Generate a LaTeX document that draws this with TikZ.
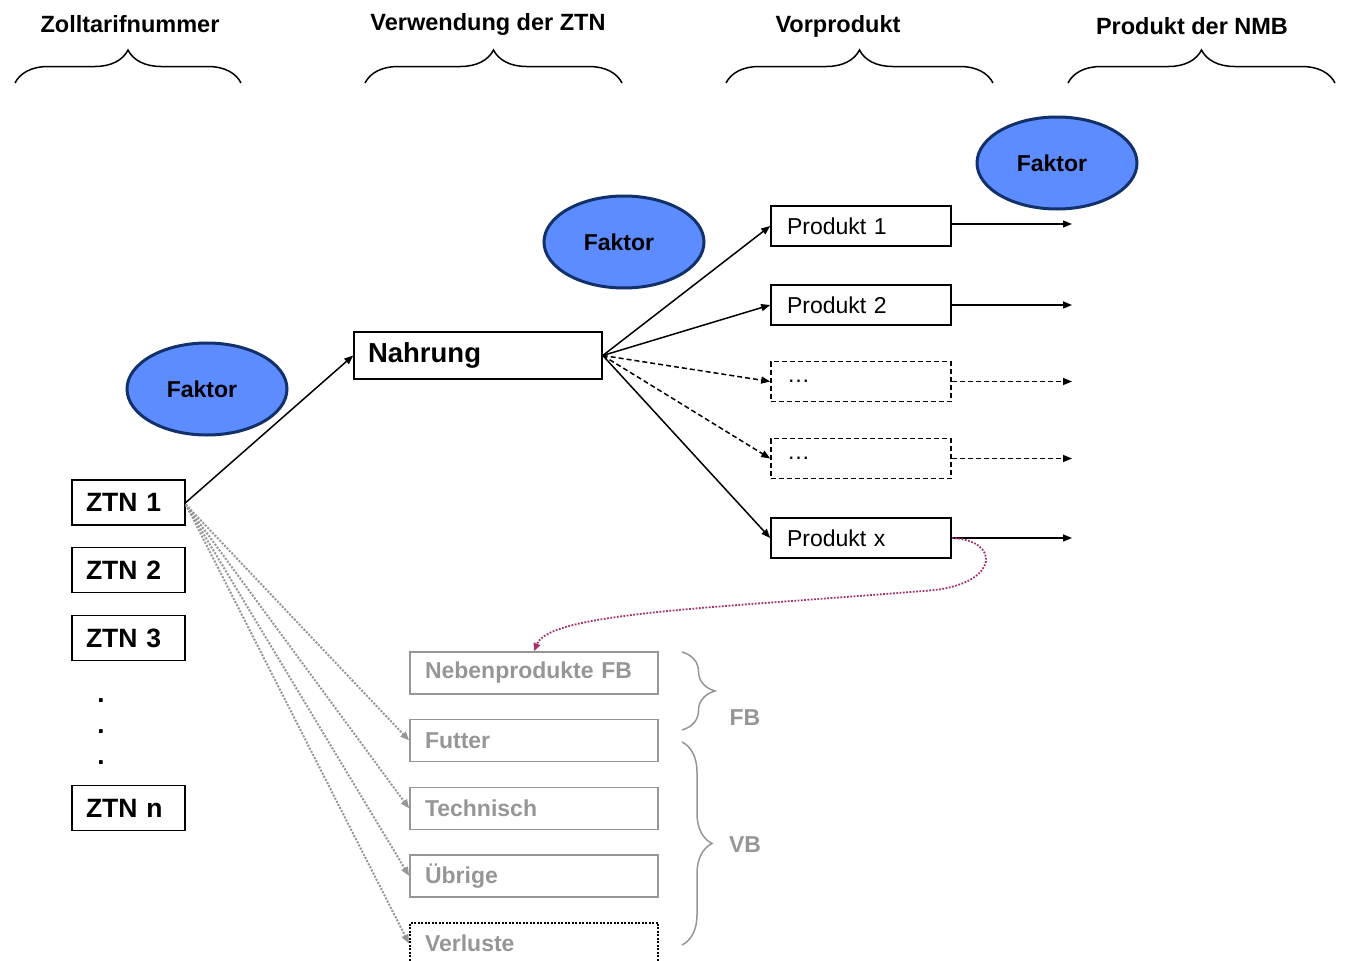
\documentclass[tikz,border=0pt]{standalone}
\usepackage{fontspec}
\setmainfont{Liberation Sans}
\definecolor{FkFill}{RGB}{92,140,255}
\definecolor{FkLine}{RGB}{18,48,105}
\definecolor{NbGray}{RGB}{150,150,150}
\definecolor{NbPurple}{RGB}{165,50,110}
\usetikzlibrary{arrows.meta,shapes.geometric,decorations.pathreplacing,positioning}

\begin{document}
\begin{tikzpicture}[x=1pt,y=-1pt,
    every node/.style={font=\fontsize{23}{26}\selectfont},
    head/.style={font=\fontsize{23.5}{26}\selectfont\bfseries},
    fak/.style={ellipse,draw=FkLine,fill=FkFill,line width=3pt,
                minimum width=160pt,minimum height=92pt,
                font=\fontsize{23}{26}\selectfont\bfseries},
    ztn/.style={draw,line width=1.6pt,minimum height=45pt,inner xsep=14pt,
                text width=85pt,align=left,
                font=\fontsize{26.5}{28}\selectfont\bfseries},
    prod/.style={draw,line width=1.6pt,minimum height=40pt,inner xsep=16pt,
                 text width=148pt,align=left},
    vprod/.style={prod,dash pattern=on 5pt off 3pt},
    use/.style={draw=NbGray,line width=1.6pt,minimum height=42pt,inner xsep=15pt,
                text width=218pt,align=left,text=NbGray,
                font=\fontsize{23}{26}\selectfont\bfseries},
    arr/.style={-{Triangle[length=9pt,width=7pt]},line width=1.5pt},
    darr/.style={arr,dash pattern=on 5pt off 3pt},
    garr/.style={-{Triangle[length=9pt,width=7pt]},NbGray,line width=2pt,
                 dash pattern=on 2pt off 1.5pt},
    brc/.style={decorate,decoration={brace,amplitude=33pt},line width=1.5pt}]
  \clip (0,0) rectangle (1345,961);
  % Kopfzeile
  \node[head] (h1) at (130,24) {Zolltarifnummer};
  \node[head] (h2) at (488,24) {Verwendung der ZTN};
  \node[head] (h3) at (838,26) {Vorprodukt};
  \node[head] (h4) at (1192,26) {Produkt der NMB};
  \draw[brc] (15,83) -- (241,83);
  \draw[brc] (365,83) -- (622,83);
  \draw[brc] (726,83) -- (993,83);
  \draw[brc] (1068,83) -- (1335,83);
  % Faktoren
  \node[fak] (f1) at (207,389) {\hspace*{-10pt}Faktor};
  \node[fak] (f2) at (624,242) {\hspace*{-10pt}Faktor};
  \node[fak] (f3) at (1057,163) {\hspace*{-10pt}Faktor};
  % Zolltarifnummern
  \node[ztn] (z1) at (128.5,502.5) {ZTN 1};
  \node[ztn] (z2) at (128.5,570) {ZTN 2};
  \node[ztn] (z3) at (128.5,638) {ZTN 3};
  \node[ztn] (zn) at (128.5,808) {ZTN n};
  \foreach \y/\nm in {701/d1,732/d2,763/d3}
    \node[font=\fontsize{26}{28}\selectfont\bfseries] (\nm) at (101,\y) {.};
  % Verwendung
  \node[draw,line width=1.6pt,minimum height=47pt,inner xsep=14pt,text width=220pt,
        align=left,font=\fontsize{27.5}{30}\selectfont\bfseries] (nah) at (478,355.5) {Nahrung};
  \node[use] (nb) at (534,673) {Nebenprodukte FB};
  \node[use] (fu) at (534,740.5) {Futter};
  \node[use] (te) at (534,808.5) {Technisch};
  \node[use] (ub) at (534,876) {Übrige};
  \node[use,draw=black,line width=2pt,dash pattern=on 2pt off 1.5pt] (ve) at (534,943.5) {Verluste};
  \draw[brc,NbGray,decoration={amplitude=33pt}] (682,652) -- (682,730);
  \draw[brc,NbGray,decoration={amplitude=30pt}] (682,742) -- (682,945);
  \node[text=NbGray,font=\fontsize{23}{26}\selectfont\bfseries] (fb) at (745,718) {FB};
  \node[text=NbGray,font=\fontsize{23}{26}\selectfont\bfseries] (vb) at (745,845) {VB};
  % Vorprodukte
  \node[prod]  (p1) at (861,226) {Produkt 1};
  \node[prod]  (p2) at (861,305) {Produkt 2};
  \node[vprod] (p3) at (861,381.5) {\dots};
  \node[vprod] (p4) at (861,458.5) {\dots};
  \node[prod]  (px) at (861,538) {Produkt x};
  \coordinate (o1) at (1072,224);
  \coordinate (o2) at (1072,305);
  \coordinate (o3) at (1072,381.5);
  \coordinate (o4) at (1072,458.5);
  \coordinate (ox) at (1072,538);
  % Verbindungen
  \draw[arr] (z1.east) -- (nah.west);
  \draw[arr] (nah.east) -- (p1.west);
  \draw[arr] (nah.east) -- (p2.west);
  \draw[darr] (nah.east) -- (p3.west);
  \draw[darr] (nah.east) -- (p4.west);
  \draw[arr] (nah.east) -- (px.west);
  \draw[arr] (p1.east |- o1) -- (o1);
  \draw[arr] (p2.east) -- (o2);
  \draw[darr] (p3.east) -- (o3);
  \draw[darr] (p4.east) -- (o4);
  \draw[arr] (px.east) -- (ox);
  \foreach \t in {fu,te,ub,ve}
    \draw[garr] ([yshift=-2pt]z1.east) -- (\t.west);
  \draw[-{Triangle[length=8pt,width=7pt]},NbPurple,line width=1.8pt,
        dash pattern=on 1.8pt off 1.5pt]
    (px.east) .. controls (1000,540) and (1000,582) .. (935,590)
    .. controls (720,608) and (550,612) .. (nb.north);
\end{tikzpicture}
\end{document}
